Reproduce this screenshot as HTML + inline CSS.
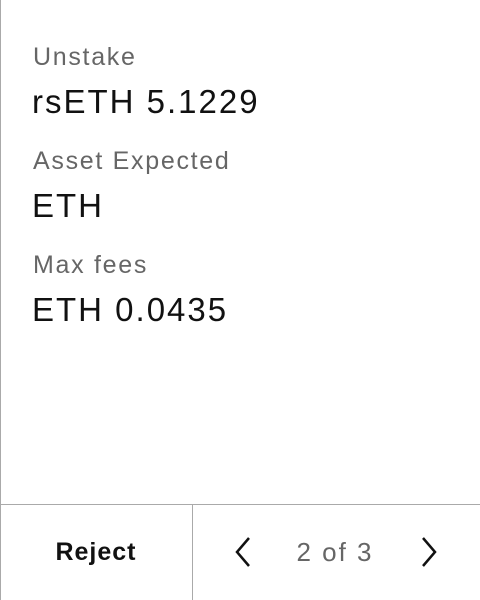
<!DOCTYPE html>
<html><head><meta charset="utf-8"><style>
body{margin:0;width:480px;height:600px;background:#fff;font-family:"Liberation Sans",sans-serif;position:relative;overflow:hidden}
.lbl{position:absolute;left:33px;font-size:25px;letter-spacing:1.7px;color:#666;line-height:1}
.val{position:absolute;left:32px;font-size:33px;letter-spacing:2px;color:#111;line-height:1}
.vl{position:absolute;left:0;top:0;width:1px;height:600px;background:#aaa}
.hl{position:absolute;left:0;top:504px;width:480px;height:1px;background:#aaa}
.dv{position:absolute;left:192px;top:504px;width:1px;height:96px;background:#aaa}
</style></head><body>
<div class="vl"></div>
<div class="lbl" style="top:45px">Unstake</div>
<div class="val" style="top:85px">rsETH 5.1229</div>
<div class="lbl" style="top:149px">Asset Expected</div>
<div class="val" style="top:189px">ETH</div>
<div class="lbl" style="top:253px">Max fees</div>
<div class="val" style="top:293px">ETH 0.0435</div>
<div class="hl"></div>
<div class="dv"></div>
<div style="position:absolute;left:0;top:505px;width:192px;height:95px;display:flex;align-items:center;justify-content:center;font-size:25px;letter-spacing:1px;font-weight:bold;color:#111">Reject</div>
<svg style="position:absolute;left:230px;top:535px" width="26" height="34"><polyline points="19,3 7,17 19,31" fill="none" stroke="#111" stroke-width="2.5"/></svg>
<div style="position:absolute;left:280px;top:539px;width:110px;text-align:center;font-size:26px;letter-spacing:2px;color:#666;line-height:1">2 of 3</div>
<svg style="position:absolute;left:416px;top:535px" width="26" height="34"><polyline points="7,3 19,17 7,31" fill="none" stroke="#111" stroke-width="2.5"/></svg>
</body></html>
